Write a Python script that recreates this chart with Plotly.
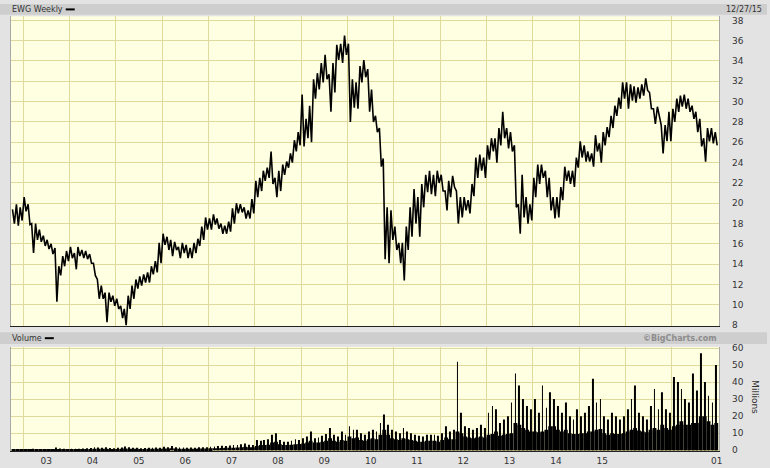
import pandas as pd
import plotly.graph_objects as go
from plotly.subplots import make_subplots

start_month = '2000-10-01'

highs = [
    19.4, 19.9, 19.6,                                                    # 2000 Oct-Dec
    20.6, 19.9, 18.0, 18.0, 17.4, 16.8, 16.4, 16.0, 15.6, 13.8, 14.8, 15.3,  # 2001
    15.7, 15.1, 15.7, 15.4, 15.3, 15.0, 14.1, 12.5, 11.9, 11.2, 11.2, 10.9,  # 2002
    10.6, 9.9, 9.6, 10.9, 11.9, 12.5, 12.8, 13.0, 13.2, 13.8, 14.3, 16.1,    # 2003
    17.0, 16.7, 16.4, 16.2, 15.7, 16.1, 15.9, 15.6, 16.1, 16.5, 17.7, 18.6,  # 2004
    18.5, 18.9, 18.5, 18.0, 17.8, 18.2, 19.5, 20.0, 19.9, 19.6, 19.3, 20.4,  # 2005
    22.2, 22.5, 23.2, 23.5, 25.1, 22.5, 23.2, 23.8, 24.1, 24.9, 26.2, 27.0,  # 2006
    30.7, 28.3, 29.6, 32.2, 32.8, 33.8, 34.6, 32.7, 33.8, 35.6, 35.7, 36.5,  # 2007
    35.7, 32.2, 31.9, 33.5, 34.1, 33.2, 31.2, 28.6, 27.4, 24.4, 19.6, 19.3,  # 2008
    17.7, 16.1, 16.1, 17.7, 19.6, 21.4, 20.6, 21.9, 22.8, 23.2, 22.8, 23.2,  # 2009
    22.8, 21.2, 22.2, 22.7, 21.2, 20.6, 20.6, 20.3, 21.9, 24.5, 24.8, 24.5,  # 2010
    25.7, 26.4, 26.4, 27.4, 29.0, 27.4, 27.0, 25.7, 19.9, 22.8, 20.6, 19.9,  # 2011
    22.5, 23.8, 23.8, 23.2, 22.5, 20.6, 20.6, 21.6, 23.6, 23.2, 23.2, 24.5,  # 2012
    26.1, 25.7, 25.1, 24.9, 26.7, 25.9, 27.0, 27.5, 28.6, 29.6, 30.4, 31.9,  # 2013
    31.9, 31.7, 31.5, 31.4, 31.7, 32.3, 30.9, 29.3, 29.5, 27.7, 27.7, 29.0,  # 2014
    29.3, 30.3, 30.6, 30.7, 30.3, 29.6, 29.0, 28.3, 26.4, 27.4, 27.4, 27.0,  # 2015
]
lows = [
    18.0, 17.8, 18.3,
    19.2, 17.9, 15.1, 16.4, 16.2, 15.8, 15.5, 15.0, 10.3, 12.9, 13.8, 14.3,
    14.6, 13.5, 14.8, 14.6, 14.5, 14.1, 12.9, 10.6, 10.6, 8.3, 10.3, 9.9,
    9.6, 8.7, 8.0, 9.6, 10.6, 11.6, 11.9, 12.2, 12.2, 13.0, 13.2, 14.1,
    15.9, 15.4, 14.8, 15.4, 14.6, 15.1, 14.6, 14.6, 15.1, 15.8, 16.4, 17.4,
    17.4, 17.9, 17.5, 17.0, 17.0, 17.2, 18.0, 19.0, 19.1, 18.5, 18.5, 19.0,
    20.6, 21.2, 22.2, 22.5, 21.9, 20.6, 21.2, 22.8, 23.5, 24.0, 25.1, 25.7,
    25.6, 26.4, 26.0, 30.3, 31.2, 31.9, 32.2, 29.0, 30.9, 34.1, 33.8, 34.6,
    28.0, 29.4, 29.3, 31.9, 32.4, 29.0, 28.0, 27.0, 23.6, 14.5, 14.1, 16.4,
    15.4, 14.1, 12.4, 15.4, 16.7, 18.0, 16.7, 19.6, 21.1, 20.9, 20.7, 22.0,
    21.2, 19.3, 20.6, 21.6, 18.0, 18.6, 19.3, 19.0, 20.7, 22.5, 23.2, 22.5,
    24.3, 25.1, 24.0, 25.7, 26.4, 25.4, 25.1, 19.6, 17.0, 18.6, 18.0, 18.3,
    20.6, 21.9, 22.5, 20.6, 19.3, 18.5, 18.6, 20.3, 22.2, 21.9, 21.6, 23.5,
    24.5, 24.1, 24.1, 23.6, 25.1, 24.0, 25.7, 26.5, 27.4, 28.6, 29.3, 30.3,
    29.3, 30.1, 29.9, 30.3, 30.6, 31.1, 29.3, 27.8, 28.6, 24.9, 26.1, 26.1,
    28.0, 29.0, 29.5, 29.3, 29.0, 28.3, 27.0, 25.6, 24.1, 26.1, 25.9, 25.7,
]

# volume in millions: typical weekly level and the biggest week of each month
vol_base = [
    0.3, 0.3, 0.3,
    0.3, 0.3, 0.4, 0.4, 0.3, 0.3, 0.3, 0.3, 0.6, 0.5, 0.4, 0.4,
    0.4, 0.4, 0.4, 0.5, 0.5, 0.6, 0.8, 0.8, 0.8, 0.9, 0.7, 0.6,
    0.7, 0.8, 1.0, 0.9, 0.8, 0.8, 0.7, 0.7, 0.8, 0.8, 0.9, 0.9,
    1.0, 1.0, 1.2, 1.0, 0.9, 0.9, 0.9, 0.9, 0.9, 1.0, 1.0, 1.0,
    1.1, 1.2, 1.2, 1.3, 1.4, 1.4, 1.5, 1.6, 1.8, 2.0, 1.8, 1.8,
    2.5, 3.0, 3.0, 3.2, 4.5, 5.0, 3.5, 3.0, 3.0, 3.2, 3.5, 3.6,
    4.0, 4.5, 5.5, 4.5, 4.5, 5.0, 5.5, 7.0, 5.5, 5.0, 6.0, 5.5,
    8.0, 7.0, 7.5, 6.0, 5.5, 6.5, 7.0, 6.5, 9.0, 12.0, 9.0, 7.0,
    6.5, 6.0, 7.0, 6.5, 6.0, 5.5, 5.0, 5.0, 5.5, 5.5, 5.5, 5.0,
    6.0, 7.5, 6.5, 6.5, 11.0, 10.0, 8.0, 7.5, 7.0, 7.5, 8.0, 7.5,
    9.0, 9.5, 11.0, 8.5, 9.0, 9.5, 10.0, 16.0, 15.0, 13.0, 12.0, 11.0,
    11.0, 10.5, 11.0, 12.0, 14.0, 14.0, 12.0, 11.0, 12.0, 10.0, 9.5, 9.5,
    10.0, 10.0, 11.0, 11.0, 12.0, 12.5, 10.0, 9.0, 10.0, 9.5, 9.5, 10.0,
    11.0, 12.0, 13.0, 11.5, 11.0, 10.5, 12.0, 13.0, 12.0, 15.0, 13.0, 12.0,
    14.0, 15.0, 17.0, 15.0, 15.0, 16.0, 16.0, 20.0, 20.0, 17.0, 15.0, 16.0,
]
vol_peak = [
    0.5, 0.5, 0.6,
    0.6, 0.6, 0.9, 0.7, 0.6, 0.5, 0.5, 0.6, 1.6, 1.0, 0.8, 0.7,
    0.8, 0.8, 0.9, 1.0, 1.2, 1.3, 1.8, 1.6, 1.5, 1.8, 1.3, 1.1,
    1.5, 1.6, 2.2, 1.8, 1.4, 1.4, 1.2, 1.3, 1.5, 1.4, 1.6, 1.5,
    2.0, 1.8, 2.5, 1.8, 1.6, 1.6, 1.5, 1.6, 1.5, 1.8, 1.8, 1.7,
    2.0, 2.2, 2.4, 2.6, 2.5, 2.8, 3.0, 3.0, 3.5, 4.0, 3.2, 3.0,
    6.0, 5.5, 6.0, 6.5, 9.0, 10.0, 6.0, 5.0, 5.0, 5.5, 6.5, 6.0,
    7.0, 8.0, 11.0, 7.0, 7.5, 8.5, 9.5, 13.0, 9.0, 8.0, 11.0, 9.0,
    14.0, 12.0, 12.0, 10.0, 9.0, 11.0, 12.0, 11.0, 16.0, 21.0, 15.0, 12.0,
    11.0, 10.0, 13.0, 11.0, 10.0, 9.0, 8.5, 8.0, 9.0, 9.0, 9.0, 8.5,
    10.0, 14.0, 11.0, 12.0, 52.0, 22.0, 14.0, 13.0, 12.0, 13.0, 15.0, 13.0,
    22.0, 26.0, 24.0, 16.0, 18.0, 20.0, 28.0, 45.0, 38.0, 30.0, 26.0, 24.0,
    30.0, 22.0, 38.0, 25.0, 34.0, 30.0, 26.0, 22.0, 28.0, 20.0, 18.0, 24.0,
    20.0, 22.0, 26.0, 42.0, 28.0, 30.0, 20.0, 18.0, 22.0, 20.0, 18.0, 20.0,
    24.0, 30.0, 38.0, 22.0, 20.0, 18.0, 26.0, 36.0, 24.0, 34.0, 24.0, 22.0,
    43.0, 40.0, 36.0, 30.0, 28.0, 45.0, 35.0, 57.0, 40.0, 32.0, 28.0, 50.0,
]

year_labels = ['02', '03', '04', '05', '06', '07', '08', '09', '10', '11', '12', '13', '14', '15', '01']
label_dates = [f'{y}-07-01' for y in range(2000, 2014)] + ['2015-12-20']

months = pd.date_range(start_month, periods=len(highs), freq='MS')
month_ms = 30.4 * 24 * 3600 * 1000

# price trace: zig-zag through each month's high and low, like dense weekly bars
zx, zy = [], []
for m, h, l in zip(months, highs, lows):
    zx += [m + pd.Timedelta(days=7), m + pd.Timedelta(days=22)]
    zy += [h, l]

W, H = 770, 468
def py(px):  # pixel row -> paper y
    return 1 - px / H

bg = '#e3e3e3'
plot_bg = '#ffffe1'
grid = '#e0d99c'
txt = '#333333'
fnt = 'DejaVu Sans'

fig = make_subplots(rows=2, cols=1, shared_xaxes=True)

fig.add_trace(go.Scatter(x=zx, y=zy, mode='lines', line=dict(color='black', width=1.6),
                         name='EWG'), row=1, col=1)
vol_x = months + pd.Timedelta(days=15)
fig.add_trace(go.Bar(x=vol_x, y=vol_base, width=month_ms,
                     marker=dict(color='black', line=dict(width=0)), name='Volume'), row=2, col=1)
fig.add_trace(go.Bar(x=vol_x, y=vol_peak, width=month_ms * 0.22,
                     marker=dict(color='black', line=dict(width=0)), name='Peak week'), row=2, col=1)

xr = ['2000-09-26', '2016-01-08']
fig.update_layout(
    width=W, height=H, margin=dict(l=0, r=0, t=0, b=0),
    paper_bgcolor=bg, plot_bgcolor=plot_bg, showlegend=False, barmode='overlay',
    font=dict(family=fnt, size=9, color=txt),
    xaxis=dict(domain=[11 / W, 722 / W], range=xr, type='date', showticklabels=False,
               tick0='2001-01-01', dtick='M12', showgrid=True, gridcolor=grid, gridwidth=1,
               showline=True, linecolor='#222222', linewidth=1, ticks=''),
    yaxis=dict(domain=[py(327.5), py(12.5)], range=[7.93, 38.4], side='right',
               tick0=0, dtick=2, showgrid=True, gridcolor=grid, gridwidth=1,
               showline=True, linecolor='#a8a8a8', mirror=True, ticks='',
               ticklabelstandoff=10, zeroline=False),
    xaxis2=dict(domain=[11 / W, 722 / W], range=xr, type='date', matches='x',
                tickmode='array', tickvals=label_dates, ticktext=year_labels,
                showgrid=False, ticks='', ticklabelstandoff=1,
                minor=dict(tick0='2001-01-01', dtick='M12', showgrid=True, gridcolor=grid),
                showline=True, linecolor='#222222', linewidth=1),
    yaxis2=dict(domain=[py(455), py(349)], range=[-0.6, 60.6], side='right',
                tick0=0, dtick=10, showgrid=True, gridcolor=grid, gridwidth=1,
                showline=True, linecolor='#a8a8a8', mirror=True, ticks='',
                ticklabelstandoff=10, zeroline=False),
)

# header strips
fig.add_shape(type='rect', xref='paper', yref='paper', x0=0, x1=1, y0=py(11), y1=1,
              fillcolor='#cecece', line=dict(width=0), layer='below')
fig.add_shape(type='rect', xref='paper', yref='paper', x0=0, x1=1, y0=py(346), y1=py(334),
              fillcolor='#cecece', line=dict(width=0), layer='below')
fig.add_shape(type='line', xref='paper', yref='paper', x0=66 / W, x1=75 / W, y0=py(5.5), y1=py(5.5),
              line=dict(color='black', width=2))
fig.add_shape(type='line', xref='paper', yref='paper', x0=45 / W, x1=54 / W, y0=py(340), y1=py(340),
              line=dict(color='black', width=2))

fig.add_annotation(text='EWG Weekly', xref='paper', yref='paper', x=10 / W, y=py(5.5),
                   xanchor='left', yanchor='middle', showarrow=False, font=dict(size=8, color=txt))
fig.add_annotation(text='12/27/15', xref='paper', yref='paper', x=767 / W, y=py(5.5),
                   xanchor='right', yanchor='middle', showarrow=False, font=dict(size=8, color=txt))
fig.add_annotation(text='Volume', xref='paper', yref='paper', x=10 / W, y=py(340),
                   xanchor='left', yanchor='middle', showarrow=False, font=dict(size=8, color=txt))
fig.add_annotation(text='<b>©BigCharts.com</b>', xref='paper', yref='paper', x=722 / W, y=py(340),
                   xanchor='right', yanchor='middle', showarrow=False, font=dict(size=8, color='#8c8c8c'))
fig.add_annotation(text='Millions', xref='paper', yref='paper', x=758 / W, y=py(400),
                   xanchor='center', yanchor='middle', textangle=90, showarrow=False,
                   font=dict(size=9, color=txt))

# the page is shot at exactly the figure size, so drop the default body margin
fig.write_html("out.html", config={'displayModeBar': False},
               post_script="document.body.style.margin='0px';")
